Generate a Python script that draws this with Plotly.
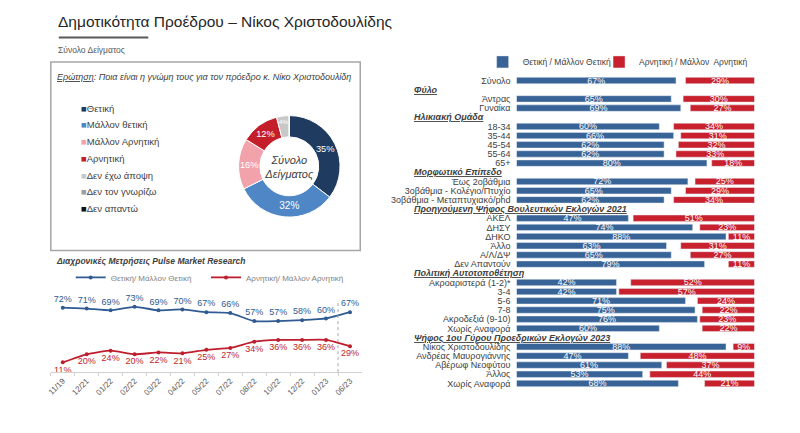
import plotly.graph_objects as go

W, H = 800, 433
# the page body adds an 8px offset; compensate so marks land at the reference pixels
OFF = 8


def px(x):
    return (x - OFF) / W


def py(y):
    return 1 - (y - OFF) / H


FONT = "Liberation Sans"
DARK = "#404040"

# ---------------- Donut data ----------------
donut_labels = ["Θετική", "Μάλλον θετική", "Μάλλον Αρνητική", "Αρνητική",
                "Δεν έχω άποψη", "Δεν τον γνωρίζω", "Δεν απαντώ"]
donut_values = [35, 32, 16, 12, 4, 0, 0]
donut_colors = ["#1F3B60", "#4F86C6", "#F2A2AA", "#C41E2A",
                "#C8C8C8", "#9E9E9E", "#111111"]

# ---------------- Trend data ----------------
trend_dates = ["11/19", "12/21", "01/22", "02/22", "03/22", "04/22", "05/22",
               "07/22", "08/22", "10/22", "12/22", "01/23", "06/23"]
trend_positive = [72, 71, 69, 73, 69, 70, 67, 66, 57, 57, 58, 60, 67]
trend_negative = [11, 20, 24, 20, 22, 21, 25, 27, 34, 36, 36, 36, 29]
trend_pos_name = "Θετική/ Μάλλον Θετική"
trend_neg_name = "Αρνητική/ Μάλλον Αρνητική"

# ---------------- Breakdown data ----------------
group_titles = ["", "Φύλο", "Ηλικιακή Ομάδα", "Μορφωτικό Επίπεδο",
                "Προηγούμενη Ψήφος Βουλευτικών Εκλογών 2021",
                "Πολιτική Αυτοτοποθέτηση",
                "Ψήφος 1ου Γύρου Προεδρικών Εκλογών 2023"]
group_labels = [
    ["Σύνολο"],
    ["Άντρας", "Γυναίκα"],
    ["18-34", "35-44", "45-54", "55-64", "65+"],
    ["Έως 2οβάθμια", "3οβάθμια - Κολέγιο/Πτυχίο", "3οβάθμια - Μεταπτυχιακό/phd"],
    ["ΑΚΕΛ", "ΔΗΣΥ", "ΔΗΚΟ", "Άλλο", "Α/Λ/ΔΨ", "Δεν Απαντούν"],
    ["Ακροαριστερά (1-2)*", "3-4", "5-6", "7-8", "Ακροδεξιά (9-10)", "Χωρίς Αναφορά"],
    ["Νίκος Χριστοδουλίδης", "Ανδρέας Μαυρογιάννης", "Αβέρωφ Νεοφύτου", "Άλλος", "Χωρίς Αναφορά"],
]
group_positive = [
    [67], [65, 69], [60, 66, 62, 62, 80], [72, 65, 62],
    [47, 74, 88, 63, 65, 79], [42, 42, 71, 75, 76, 60], [88, 47, 61, 53, 68],
]
group_negative = [
    [29], [30, 27], [34, 31, 32, 33, 18], [25, 29, 34],
    [51, 23, 11, 31, 27, 11], [52, 57, 24, 22, 23, 22], [9, 48, 37, 44, 21],
]
bar_pos_name = "Θετική / Μάλλον Θετική"
bar_neg_name = "Αρνητική / Μάλλον  Αρνητική"

POS_COLOR = "#386396"
NEG_COLOR = "#C8202C"
LINE_POS = "#2F5A92"
LINE_NEG = "#BE1E2D"

# Build row structure
row_idx, row_lab, row_pos, row_neg = [], [], [], []
header_rows = []
r = 0
for title, labs, pos, neg in zip(group_titles, group_labels, group_positive, group_negative):
    if title:
        header_rows.append((r, title))
        r += 1
    for lab, p, n in zip(labs, pos, neg):
        row_idx.append(r)
        row_lab.append(lab)
        row_pos.append(p)
        row_neg.append(n)
        r += 1
n_rows = r

fig = go.Figure()

# ---------------- Donut ----------------
fig.add_trace(go.Pie(
    labels=donut_labels, values=donut_values,
    marker=dict(colors=donut_colors, line=dict(color="white", width=1)),
    hole=0.58, sort=False, direction="clockwise", rotation=0,
    text=[f"{v}%" if v else "" for v in donut_values], textinfo="text",
    textposition="inside", insidetextorientation="horizontal",
    textfont=dict(color="white", size=10, family=FONT),
    domain=dict(x=[px(235.7), px(337.7)], y=[py(217.7), py(115.7)]),
    title=dict(text="<i>Σύνολο<br>Δείγματος</i>", position="middle center",
               font=dict(size=11, color="#404040", family=FONT)),
    showlegend=False,
))

# ---------------- Trend lines ----------------
fig.add_trace(go.Scatter(
    x=trend_dates, y=trend_positive, name=trend_pos_name,
    mode="lines+markers+text", line=dict(color=LINE_POS, width=1.8, shape="spline", smoothing=0.5),
    marker=dict(size=4, color=LINE_POS),
    text=[f"{v}%" for v in trend_positive], textposition="top center",
    textfont=dict(color=LINE_POS, size=9, family=FONT),
    cliponaxis=False, xaxis="x", yaxis="y", legend="legend",
))
fig.add_trace(go.Scatter(
    x=trend_dates, y=trend_negative, name=trend_neg_name,
    mode="lines+markers+text", line=dict(color=LINE_NEG, width=1.8, shape="spline", smoothing=0.5),
    marker=dict(size=4, color=LINE_NEG),
    text=[f"{v}%" for v in trend_negative], textposition="bottom center",
    textfont=dict(color=LINE_NEG, size=9, family=FONT),
    cliponaxis=False, xaxis="x", yaxis="y", legend="legend2",
))

# ---------------- Breakdown bars ----------------
fig.add_trace(go.Bar(
    orientation="h", y=row_idx, x=row_pos, base=0, name=bar_pos_name,
    marker=dict(color=POS_COLOR), width=0.7,
    text=[f"{v}%" for v in row_pos], textposition="inside", insidetextanchor="middle",
    textangle=0, constraintext="none",
    textfont=dict(color="white", size=9, family=FONT),
    xaxis="x2", yaxis="y2", legend="legend3",
))
fig.add_trace(go.Bar(
    orientation="h", y=row_idx, x=row_neg, base=[100 - v for v in row_neg], name=bar_neg_name,
    marker=dict(color=NEG_COLOR), width=0.7,
    text=[f"{v}%" for v in row_neg], textposition="inside", insidetextanchor="middle",
    textangle=0, constraintext="none",
    textfont=dict(color="white", size=9, family=FONT),
    xaxis="x2", yaxis="y2", legend="legend4",
))

annotations = []
annotations.append(dict(text="Δημοτικότητα Προέδρου – Νίκος Χριστοδουλίδης",
                        x=px(52), y=py(22), xref="paper", yref="paper",
                        xanchor="left", yanchor="middle", showarrow=False,
                        font=dict(size=15.5, color="#262626", family=FONT)))
annotations.append(dict(text="Σύνολο Δείγματος",
                        x=px(52), y=py(50.5), xref="paper", yref="paper",
                        xanchor="left", yanchor="middle", showarrow=False,
                        font=dict(size=8.5, color="#595959", family=FONT)))
annotations.append(dict(text="<i><u>Ερώτηση</u>: Ποια είναι η γνώμη τους για τον πρόεδρο κ. Νίκο Χριστοδουλίδη</i>",
                        x=px(51), y=py(77), xref="paper", yref="paper",
                        xanchor="left", yanchor="middle", showarrow=False,
                        font=dict(size=9, color="#404040", family=FONT)))
for i, (lab, col) in enumerate(zip(donut_labels, donut_colors)):
    annotations.append(dict(text=f"<span style='color:{col}'>■</span>{lab}",
                            x=px(75), y=py(108.3 + i * 16.8), xref="paper", yref="paper",
                            xanchor="left", yanchor="middle", showarrow=False,
                            font=dict(size=9.5, color="#404040", family=FONT)))
annotations.append(dict(text="<b><i>Διαχρονικές Μετρήσεις Pulse Market Research</i></b>",
                        x=px(50), y=py(262), xref="paper", yref="paper",
                        xanchor="left", yanchor="middle", showarrow=False,
                        font=dict(size=8.5, color="#404040", family=FONT)))
for rr, title in header_rows:
    annotations.append(dict(text=f"<b><i><u>{title}</u></i></b>",
                            x=px(410), y=rr, xref="paper", yref="y2",
                            xanchor="left", yanchor="middle", showarrow=False,
                            font=dict(size=9, color="#404040", family=FONT)))

shapes = [
    dict(type="rect", xref="paper", yref="paper", x0=px(55), x1=px(145), y0=py(38.5), y1=py(36.5),
         fillcolor="#595959", line=dict(width=0)),
    dict(type="rect", xref="paper", yref="paper", x0=px(47), x1=px(358), y0=py(251), y1=py(62),
         line=dict(color="#A6A6A6", width=1.5), fillcolor="rgba(0,0,0,0)"),
    dict(type="line", xref="x", yref="y", x0=len(trend_dates) - 1.5, x1=len(trend_dates) - 1.5,
         y0=0, y1=89, line=dict(color="#A6A6A6", width=1, dash="dot")),
]

leg_common = dict(orientation="h", yanchor="middle", xanchor="left",
                  bgcolor="rgba(0,0,0,0)", borderwidth=0)

fig.update_layout(
    width=W, height=H, margin=dict(l=0, r=0, t=0, b=0),
    paper_bgcolor="white", plot_bgcolor="white",
    font=dict(family=FONT, color=DARK),
    barmode="overlay",
    xaxis=dict(domain=[px(47), px(359.7)], type="category", range=[-0.5, len(trend_dates) - 0.5],
               showline=True, linecolor="#D0D0D0", linewidth=1, showgrid=False, zeroline=False,
               ticks="outside", tickson="boundaries", ticklen=3, tickcolor="#D0D0D0",
               tickangle=-45, tickfont=dict(size=8, color="#595959", family=FONT),
               anchor="y", fixedrange=True),
    yaxis=dict(domain=[py(373), py(301.2)], range=[0, 80], visible=False, anchor="x"),
    xaxis2=dict(domain=[px(515), px(754.3)], range=[0, 100], visible=False, anchor="y2"),
    yaxis2=dict(domain=[py(388.9), py(76.1)], range=[n_rows - 0.5, -0.5],
                tickvals=row_idx, ticktext=row_lab, showgrid=False, zeroline=False,
                showline=False, ticks="", ticklabelstandoff=5,
                tickfont=dict(size=9, color="#404040", family=FONT), anchor="x2"),
    legend=dict(x=px(67), y=py(278), font=dict(size=8, color="#7F7F7F", family=FONT), **leg_common),
    legend2=dict(x=px(203), y=py(278), font=dict(size=8, color="#7F7F7F", family=FONT), **leg_common),
    legend3=dict(x=px(481), y=py(62), font=dict(size=8.5, color="#404040", family=FONT), **leg_common),
    legend4=dict(x=px(598), y=py(62), font=dict(size=8.5, color="#404040", family=FONT), **leg_common),
    annotations=annotations,
    shapes=shapes,
)

fig.write_html("out.html")
